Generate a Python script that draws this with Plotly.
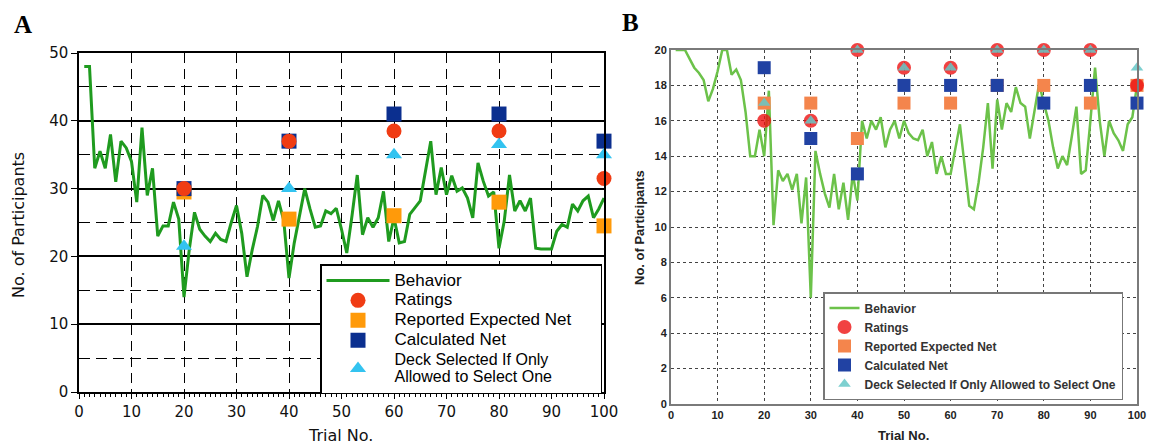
import plotly.graph_objects as go

# ---------------- data ----------------
trials = list(range(1, 101))

a_behavior = [48, 48, 33, 35.5, 33, 38, 31, 37, 36, 34,
              28, 39, 29, 33, 23, 24.5, 24.5, 28, 25.5, 14,
              21, 26.5, 24, 23, 22.2, 23.4, 22.5, 22.2, 25, 27.5,
              23.4, 17, 21, 24.4, 29, 28, 25.3, 28.2, 25.3, 16.8,
              22, 26.2, 30, 27, 24.3, 24.5, 26.7, 26.3, 27.1, 24,
              20.5, 26, 32, 23.2, 25.7, 24.3, 25.7, 29.6, 22.2, 25.7,
              22, 22.2, 26.2, 27.2, 28.2, 32.6, 37, 29.1, 33.1, 29.1,
              31.9, 29.6, 30.1, 28.6, 25.7, 33.8, 31.1, 28.9, 29.5, 21.2,
              25.2, 32, 26.7, 28.2, 26.7, 28.6, 21.2, 21.1, 21.1, 21.1,
              23.7, 24.7, 24.3, 27.7, 26.7, 28.2, 28.9, 25.7, 27, 28.6]

b_behavior = [20, 20, 20, 19.5, 19, 18.7, 18.3, 17.1, 17.8, 18.8,
              20, 20, 18.6, 18.9, 18.3, 16.5, 14, 14, 15.5, 14,
              17.7, 10.1, 13.2, 12.6, 13, 12.1, 13, 10.2, 12.8, 6,
              14.3, 13, 11.9, 11.1, 13, 11, 12.5, 10.4, 13, 11.5,
              16, 15, 16, 15.5, 16.2, 14.5, 15.5, 16, 15, 16,
              15.3, 15, 14.9, 15.5, 14, 14.8, 13, 14, 13, 13,
              14.5, 15.8, 13.5, 11.2, 11, 12.5, 14.5, 17, 13.3, 17.2,
              15.5, 17, 16.5, 17.9, 17, 16.8, 15, 16.5, 18.1, 17,
              16, 14.5, 13.3, 14, 13.5, 15.1, 16.8, 13, 13.2, 16,
              19, 16, 14, 16, 15.3, 14.9, 14.3, 15.8, 16.2, 18]

a_probe_trials = [20, 40, 60, 80, 100]
a_ratings = [30, 37, 38.5, 38.5, 31.5]
a_reported = [29.5, 25.5, 26, 28, 24.5]
a_calculated = [30, 37, 41, 41, 37]
a_deck = [21.5, 30, 35, 36.5, 35]

b_probe_trials = [20, 30, 40, 50, 60, 70, 80, 90, 100]
b_ratings = [16, 16, 20, 19, 19, 20, 20, 20, 18]
b_reported = [17, 17, 15, 17, 17, 18, 18, 17, 18]
b_calculated = [19, 15, 13, 18, 18, 18, 17, 18, 17]
b_deck = [17, 16, 20, 19, 19, 20, 20, 20, 19]

a_yticks = [0, 10, 20, 30, 40, 50]
b_yticks = [0, 2, 4, 6, 8, 10, 12, 14, 16, 18, 20]
xticks = [0, 10, 20, 30, 40, 50, 60, 70, 80, 90, 100]

# ---------------- styles ----------------
W, H = 1149, 444
A_GREEN, A_RED, A_ORANGE, A_BLUE, A_CYAN = '#1f9b1f', '#f03c14', '#ff9a0a', '#0b2f8f', '#33c3f0'
B_GREEN, B_RED, B_ORANGE, B_BLUE, B_TEAL = '#6cc24a', '#ee1111', '#f4854c', '#2142a3', '#66c8c8'


def fx(p):
    return p / W


def fy(p):
    return 1 - p / H


def lg(s, size=17):
    return f'<span style="font-size:{size}px">{s}</span>'


NB = '&nbsp;' * 5

fig = go.Figure()

# ---- panel A ----
fig.add_trace(go.Scatter(x=trials, y=a_behavior, mode='lines', name=lg('Behavior'),
                         line=dict(color=A_GREEN, width=3), xaxis='x', yaxis='y',
                         legend='legend', legendrank=1))
fig.add_trace(go.Scatter(x=a_probe_trials, y=a_reported, mode='markers', name=lg('Reported Expected Net' + NB),
                         marker=dict(symbol='square', size=15, color=A_ORANGE), xaxis='x', yaxis='y',
                         legend='legend', legendrank=3, cliponaxis=False))
fig.add_trace(go.Scatter(x=a_probe_trials, y=a_calculated, mode='markers', name=lg('Calculated Net'),
                         marker=dict(symbol='square', size=15, color=A_BLUE), xaxis='x', yaxis='y',
                         legend='legend', legendrank=4, cliponaxis=False))
fig.add_trace(go.Scatter(x=a_probe_trials, y=a_ratings, mode='markers', name=lg('Ratings'),
                         marker=dict(symbol='circle', size=15, color=A_RED), xaxis='x', yaxis='y',
                         legend='legend', legendrank=2, cliponaxis=False))
fig.add_trace(go.Scatter(x=a_probe_trials, y=a_deck, mode='markers',
                         name=lg('Deck Selected If Only', 16) + '<br>' + lg('Allowed to Select One', 16),
                         marker=dict(symbol='triangle-up', size=14, color=A_CYAN), xaxis='x', yaxis='y',
                         legend='legend', legendrank=5, cliponaxis=False))

# ---- panel B ----
fig.add_trace(go.Scatter(x=trials, y=b_behavior, mode='lines', name='Behavior',
                         line=dict(color=B_GREEN, width=2.5), xaxis='x2', yaxis='y2',
                         legend='legend2', legendrank=1))
fig.add_trace(go.Scatter(x=b_probe_trials, y=b_reported, mode='markers', name='Reported Expected Net',
                         marker=dict(symbol='square', size=13, color=B_ORANGE), xaxis='x2', yaxis='y2',
                         legend='legend2', legendrank=3, cliponaxis=False))
fig.add_trace(go.Scatter(x=b_probe_trials, y=b_calculated, mode='markers', name='Calculated Net',
                         marker=dict(symbol='square', size=13, color=B_BLUE), xaxis='x2', yaxis='y2',
                         legend='legend2', legendrank=4, cliponaxis=False))
fig.add_trace(go.Scatter(x=b_probe_trials, y=b_ratings, mode='markers', name='Ratings',
                         marker=dict(symbol='circle', size=14, color=B_RED, opacity=0.8), xaxis='x2', yaxis='y2',
                         legend='legend2', legendrank=2, cliponaxis=False))
fig.add_trace(go.Scatter(x=b_probe_trials, y=b_deck, mode='markers',
                         name='Deck Selected If Only Allowed to Select One',
                         marker=dict(symbol='triangle-up', size=11, color=B_TEAL, opacity=0.85),
                         xaxis='x2', yaxis='y2', legend='legend2', legendrank=5, cliponaxis=False))

a_tick_font = dict(family='DejaVu Sans', size=15, color='#111')
b_tick_font = dict(family='Liberation Sans', size=11, color='#222', weight='bold')

fig.update_layout(
    width=W, height=H, margin=dict(l=0, r=0, t=0, b=0, autoexpand=False),
    paper_bgcolor='white', plot_bgcolor='white', showlegend=True,
    xaxis=dict(domain=[fx(79), fx(604)], range=[0, 100], anchor='y', tickvals=xticks, automargin=False,
               showline=True, linecolor='black', linewidth=1.5, mirror=True,
               ticks='outside', ticklen=5, tickcolor='black', tickwidth=1.2,
               minor=dict(dtick=1, ticks='outside', ticklen=3, tickcolor='black', showgrid=False),
               showgrid=True, gridcolor='black', gridwidth=1.3, griddash='10px,6px',
               zeroline=False, tickfont=a_tick_font),
    yaxis=dict(domain=[fy(392), fy(53)], range=[0, 50], anchor='x', tickvals=a_yticks, automargin=False,
               showline=True, linecolor='black', linewidth=1.5, mirror=True,
               ticks='outside', ticklen=6, tickcolor='black',
               minor=dict(dtick=5, showgrid=True, gridcolor='black', gridwidth=1.2, griddash='11px,6px'),
               showgrid=True, gridcolor='black', gridwidth=1.5,
               zeroline=False, tickfont=a_tick_font),
    xaxis2=dict(domain=[fx(671), fx(1137)], range=[0, 100], anchor='y2', tickvals=xticks, automargin=False,
                showline=True, linecolor='#7a7a7a', linewidth=2, mirror=True, ticks='',
                showgrid=True, gridcolor='#444', gridwidth=1.3, griddash='3px,3px',
                zeroline=False, tickfont=b_tick_font),
    yaxis2=dict(domain=[fy(404), fy(50)], range=[0, 20], anchor='x2', tickvals=b_yticks, automargin=False,
                showline=True, linecolor='#7a7a7a', linewidth=2, mirror=True, ticks='',
                showgrid=True, gridcolor='#444', gridwidth=1.3, griddash='3px,3px',
                zeroline=False, tickfont=b_tick_font),
    legend=dict(x=fx(320), y=fy(264), xanchor='left', yanchor='top', bgcolor='white',
                bordercolor='black', borderwidth=1.5, itemwidth=63, tracegroupgap=0,
                font=dict(family='Liberation Sans', size=13, color='black')),
    legend2=dict(x=fx(823), y=fy(400), xanchor='left', yanchor='bottom', bgcolor='white',
                 bordercolor='#777', borderwidth=1.5, tracegroupgap=0,
                 font=dict(family='Liberation Sans', size=12, color='#333', weight='bold')),
)

ann = [
    dict(text='A', x=fx(23), y=fy(24), font=dict(family='Liberation Serif', size=25, color='black', weight='bold')),
    dict(text='B', x=fx(630), y=fy(22), font=dict(family='Liberation Serif', size=25, color='black', weight='bold')),
    dict(text='No. of Participants', x=fx(18), y=fy(225), textangle=-90,
         font=dict(family='DejaVu Sans', size=16, color='#111')),
    dict(text='Trial No.', x=fx(340), y=fy(435), font=dict(family='DejaVu Sans', size=16, color='#111')),
    dict(text='No. of Participants', x=fx(639), y=fy(228), textangle=-90,
         font=dict(family='Liberation Sans', size=13, color='#222', weight='bold')),
    dict(text='Trial No.', x=fx(903), y=fy(435), font=dict(family='Liberation Sans', size=13, color='#222', weight='bold')),
]
for a in ann:
    a.update(xref='paper', yref='paper', showarrow=False, xanchor='center', yanchor='middle')
fig.update_layout(annotations=ann)

fig.write_html('out.html', config={'displayModeBar': False},
               post_script="document.body.style.margin='0px';")
